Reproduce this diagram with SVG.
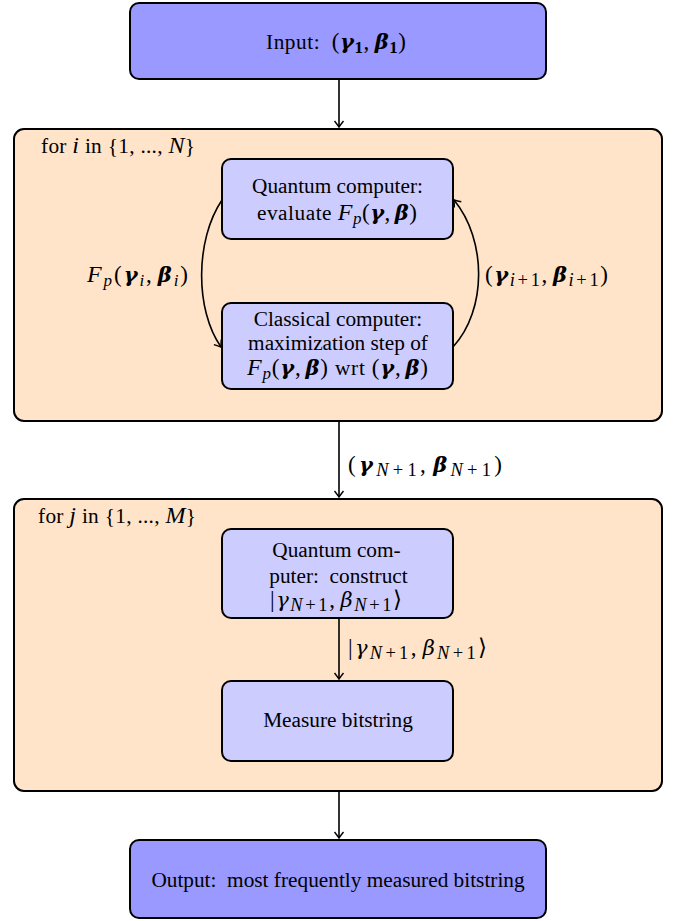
<svg xmlns="http://www.w3.org/2000/svg" width="675" height="921" viewBox="0 0 675 921">
<style>
text{font-family:"Liberation Serif","Times New Roman",serif;font-size:21.3px;fill:#000}
.c{text-anchor:middle}
.i{font-style:italic;font-size:24px}
.b{font-family:"DejaVu Serif",serif;font-style:italic;font-weight:bold;font-size:21px}
.g{font-family:"DejaVu Serif",serif;font-style:italic;font-size:21px}
.m{font-size:23px}
.s{font-size:17px}
.t{font-size:18.5px}
.node-main{fill:#9999ff;stroke:#000;stroke-width:2}
.node-inner{fill:#ccccff;stroke:#000;stroke-width:2}
.loop{fill:#ffe4c9;stroke:#000;stroke-width:2}
.edge{fill:none;stroke:#000;stroke-width:1.6}
</style>
<defs>
<marker id="arr" viewBox="-7 -6 8 12" markerWidth="8" markerHeight="12" refX="0" refY="0" orient="auto" markerUnits="userSpaceOnUse">
<path d="M -6 -4.5 Q -1.5 -1 0 0 Q -1.5 1 -6 4.5" fill="none" stroke="#000" stroke-width="1.4"/>
</marker>
</defs>

<g id="loop1">
<rect class="loop" x="14" y="129" width="648" height="292" rx="10"/>
<text x="41" y="153" textLength="154" lengthAdjust="spacing">for <tspan class="i">i</tspan> in {1, ..., <tspan class="i">N</tspan>}</text>
</g>
<g id="loop2">
<rect class="loop" x="14" y="499" width="648" height="292" rx="10"/>
<text x="38" y="523" textLength="158" lengthAdjust="spacing">for <tspan class="i">j</tspan> in {1, ..., <tspan class="i">M</tspan>}</text>
</g>

<g id="input">
<rect class="node-main" x="130" y="3" width="416" height="76" rx="9"/>
<text class="c" x="336" y="49" textLength="140" lengthAdjust="spacing">Input:&#160; <tspan class="m">(</tspan><tspan class="b">γ</tspan><tspan class="s" font-weight="bold" dy="4">1</tspan><tspan class="m" dy="-4">,</tspan><tspan class="b" dx="5">β</tspan><tspan class="s" font-weight="bold" dy="4">1</tspan><tspan class="m" dy="-4">)</tspan></text>
</g>

<g id="quantum-eval">
<rect class="node-inner" x="222" y="159" width="231" height="80" rx="9"/>
<text class="c" x="337.5" y="193">Quantum computer:</text>
<text class="c" x="337" y="220" textLength="160" lengthAdjust="spacing">evaluate <tspan class="i">F</tspan><tspan class="i s" dy="4">p</tspan><tspan class="m" dy="-4">(</tspan><tspan class="b">γ</tspan><tspan class="m">,</tspan><tspan class="b" dx="4">β</tspan><tspan class="m">)</tspan></text>
</g>

<g id="classical">
<rect class="node-inner" x="222" y="303" width="231" height="86" rx="9"/>
<text class="c" x="338" y="326">Classical computer:</text>
<text class="c" x="338" y="350">maximization step of</text>
<text class="c" x="337.5" y="375" textLength="181" lengthAdjust="spacing"><tspan class="i">F</tspan><tspan class="i s" dy="4">p</tspan><tspan class="m" dy="-4">(</tspan><tspan class="b">γ</tspan><tspan class="m">,</tspan><tspan class="b" dx="4">β</tspan><tspan class="m">)</tspan> wrt <tspan class="m">(</tspan><tspan class="b">γ</tspan><tspan class="m">,</tspan><tspan class="b" dx="4">β</tspan><tspan class="m">)</tspan></text>
</g>

<g id="quantum-construct">
<rect class="node-inner" x="222" y="529" width="231" height="89" rx="9"/>
<text class="c" x="336.5" y="557">Quantum com-</text>
<text class="c" x="338.5" y="583">puter:&#160; construct</text>
<text class="c" x="336" y="607" textLength="132" lengthAdjust="spacing"><tspan class="m">|</tspan><tspan class="g">γ</tspan><tspan class="i t" dy="4">N</tspan><tspan class="t" dx="1">+</tspan><tspan class="t" dx="1">1</tspan><tspan class="m" dy="-4">,</tspan><tspan class="g" dx="4">β</tspan><tspan class="i t" dy="4">N</tspan><tspan class="t" dx="1">+</tspan><tspan class="t" dx="1">1</tspan><tspan class="m" dy="-4">⟩</tspan></text>
</g>

<g id="measure">
<rect class="node-inner" x="222" y="681" width="231" height="80" rx="9"/>
<text class="c" x="338" y="727">Measure bitstring</text>
</g>

<g id="output">
<rect class="node-main" x="130" y="840" width="416" height="78" rx="9"/>
<text class="c" x="338" y="887">Output:&#160; most frequently measured bitstring</text>
</g>

<g id="connectors">
<line class="edge" x1="339" y1="79" x2="339" y2="127" marker-end="url(#arr)"/>
<line class="edge" x1="339" y1="421" x2="339" y2="497" marker-end="url(#arr)"/>
<line class="edge" x1="339" y1="618" x2="339" y2="679" marker-end="url(#arr)"/>
<line class="edge" x1="339" y1="791" x2="339" y2="838" marker-end="url(#arr)"/>
<path class="edge" d="M 222 200 C 195 240 195 310 221 347" marker-end="url(#arr)"/>
<path class="edge" d="M 453 347 C 487 310 487 240 454 200" marker-end="url(#arr)"/>
<text x="137.5" y="282" class="c" textLength="101" lengthAdjust="spacing"><tspan class="i">F</tspan><tspan class="i s" dy="4">p</tspan><tspan class="m" dy="-4">(</tspan><tspan class="b">γ</tspan><tspan class="i s" dy="4">i</tspan><tspan class="m" dy="-4">,</tspan><tspan class="b" dx="4">β</tspan><tspan class="i s" dy="4">i</tspan><tspan class="m" dy="-4">)</tspan></text>
<text x="546.5" y="282" class="c" textLength="123" lengthAdjust="spacing"><tspan class="m">(</tspan><tspan class="b">γ</tspan><tspan class="i t" dy="4">i</tspan><tspan class="t" dx="1">+</tspan><tspan class="t" dx="1">1</tspan><tspan class="m" dy="-4">,</tspan><tspan class="b" dx="4">β</tspan><tspan class="i t" dy="4">i</tspan><tspan class="t" dx="1">+</tspan><tspan class="t" dx="1">1</tspan><tspan class="m" dy="-4">)</tspan></text>
<text x="348" y="472" textLength="154" lengthAdjust="spacing"><tspan class="m">(</tspan><tspan class="b">γ</tspan><tspan class="i t" dy="4">N</tspan><tspan class="t" dx="1">+</tspan><tspan class="t" dx="1">1</tspan><tspan class="m" dy="-4">,</tspan><tspan class="b" dx="4">β</tspan><tspan class="i t" dy="4">N</tspan><tspan class="t" dx="1">+</tspan><tspan class="t" dx="1">1</tspan><tspan class="m" dy="-4">)</tspan></text>
<text x="348" y="655" textLength="139" lengthAdjust="spacing"><tspan class="m">|</tspan><tspan class="g">γ</tspan><tspan class="i t" dy="4">N</tspan><tspan class="t" dx="1">+</tspan><tspan class="t" dx="1">1</tspan><tspan class="m" dy="-4">,</tspan><tspan class="g" dx="4">β</tspan><tspan class="i t" dy="4">N</tspan><tspan class="t" dx="1">+</tspan><tspan class="t" dx="1">1</tspan><tspan class="m" dy="-4">⟩</tspan></text>
</g>
</svg>
